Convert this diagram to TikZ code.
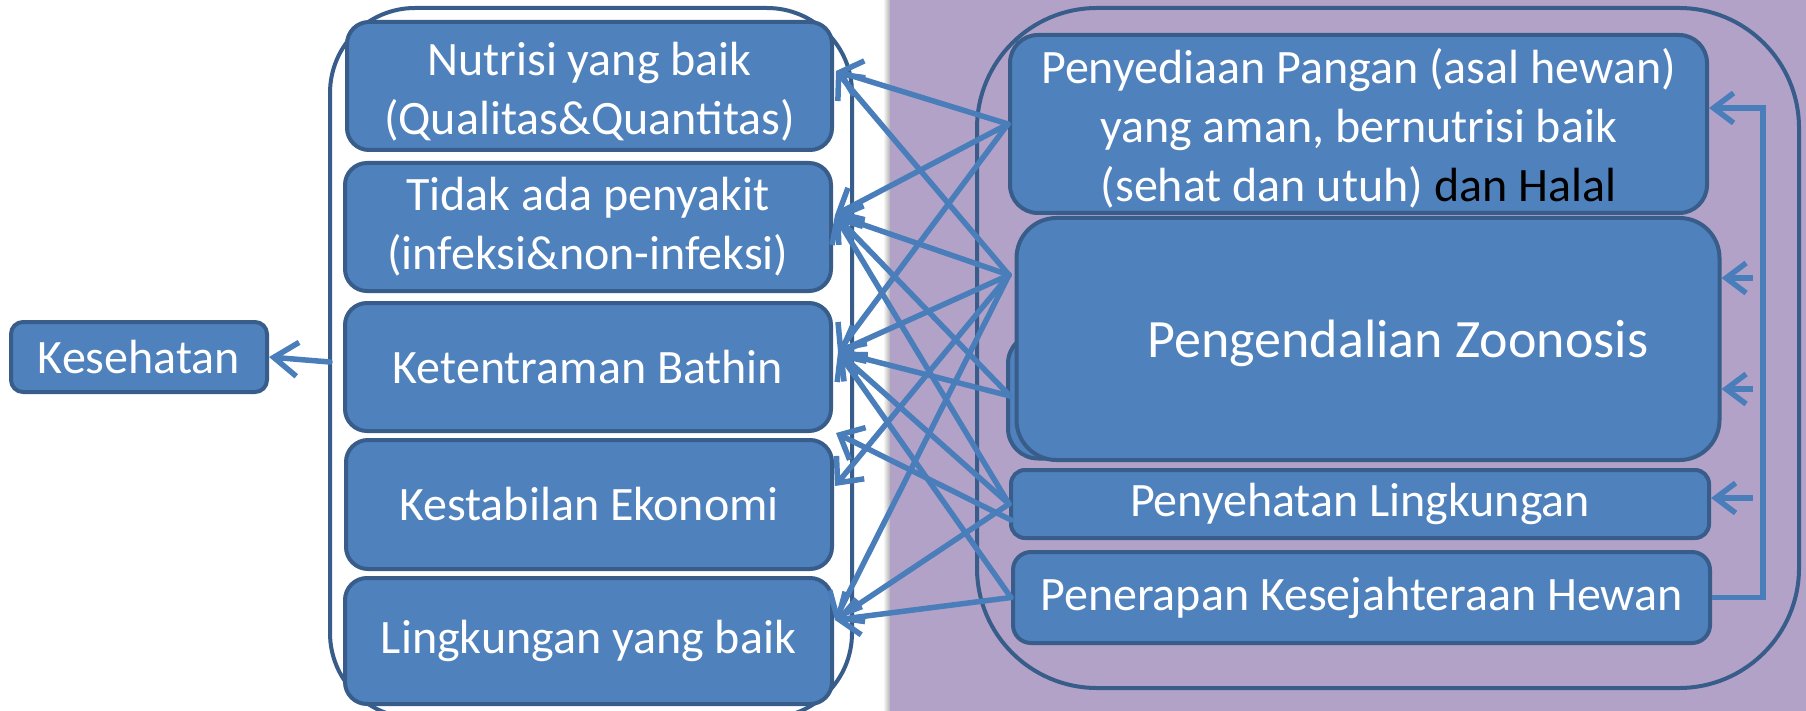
\documentclass[tikz,border=0pt]{standalone}
\usepackage{fontspec}
\setmainfont{Carlito}
\usetikzlibrary{arrows.meta}
\definecolor{boxfill}{HTML}{4F81BD}
\definecolor{boxline}{HTML}{385D8A}
\definecolor{lilac}{HTML}{B3A2C7}
\definecolor{conn}{HTML}{4A7EBB}
\begin{document}
\begin{tikzpicture}[x=1pt,y=-1pt,
  bx/.style={draw=boxline, line width=4pt, fill=boxfill, rounded corners=22pt,
     text=white, align=center, inner sep=0pt, font=\fontsize{48}{59}\selectfont},
  outerbox/.style={draw=boxline, line width=4pt, rounded corners=#1},
  con/.style={draw=conn, line width=5.5pt, line cap=round,
     -{Straight Barb[length=20pt,width=36pt,line width=5.5pt]}},
  fbline/.style={draw=conn, line width=5.5pt},
  lbl/.style={text=white, inner sep=0pt, align=center, font=\fontsize{48}{59}\selectfont}]
\useasboundingbox (0,0) rectangle (1806,711);
\clip (0,0) rectangle (1806,711);
% background
\fill[white] (0,0) rectangle (1806,711);
\shade[left color=white, right color=black!30] (883,0) rectangle (890,711);
\fill[lilac] (890,0) rectangle (1806,711);
% containers
\draw[outerbox=85pt] (330,8) rectangle (852,718);
\draw[outerbox=120pt] (977,8) rectangle (1799,688);
% left boxes
\node[bx, rounded corners=12pt, minimum width=256pt, minimum height=70pt] (kes) at (139,357) {Kesehatan};
\node[bx, minimum width=485pt, minimum height=128pt] (nut) at (589.5,86) {};
\node[lbl] (nuttxt) at (589.5,92) {Nutrisi yang baik\\(Qualitas\&Quantitas)};
\node[bx, minimum width=486pt, minimum height=128pt] (tid) at (588,227) {Tidak ada penyakit\\(infeksi\&non-infeksi)};
\node[bx, minimum width=486pt, minimum height=128pt] (ket) at (588,367) {Ketentraman Bathin};
\node[bx, minimum width=486pt, minimum height=129pt] (eko) at (589,504.5) {Kestabilan Ekonomi};
\node[bx, minimum width=487pt, minimum height=126pt] (lin) at (588.5,641) {Lingkungan yang baik};
% right boxes
\node[bx, rounded corners=28pt, minimum width=697pt, minimum height=178pt] (pen) at (1358.5,124) {};
\node[lbl] (pentxt) at (1358.5,128) {Penyediaan Pangan (asal hewan)\\yang aman, bernutrisi baik\\(sehat dan utuh) \textcolor{black}{dan Halal}};
\node[bx, rounded corners=30pt, minimum width=700pt, minimum height=125pt] (zoosh) at (1358,396) {};
\node[bx, rounded corners=40pt, minimum width=703pt, minimum height=242pt] (zoo) at (1368,339) {};
\node[lbl, font=\fontsize{54}{64}\selectfont] (zootxt) at (1398,343) {Pengendalian Zoonosis};
\node[bx, rounded corners=14pt, minimum width=698pt, minimum height=68pt] (ling) at (1360,504) {Penyehatan Lingkungan};
\node[bx, rounded corners=18pt, minimum width=697pt, minimum height=91pt] (kesej) at (1361.5,597.5) {Penerapan Kesejahteraan Hewan};
% connection points
\coordinate (p1) at (pen.west);
\coordinate (p2a) at (1009,275);
\coordinate (p2b) at (1010,396);
\coordinate (p3) at (ling.west);
\coordinate (p3b) at (1011,520);
\coordinate (p4) at (kesej.west);
\coordinate (l1) at (836,71);
\coordinate (l2) at (835,215);
\coordinate (l3) at (838,352);
\coordinate (l3b) at (836,433);
\coordinate (l4) at (835,486);
\coordinate (l5) at (835,620);
% connectors
\foreach \s/\t in {p1/l1, p1/l2, p1/l3,
                   p2a/l1, p2a/l2, p2a/l3, p2a/l4, p2a/l5,
                   p2b/l2, p2b/l3,
                   p3/l2, p3/l3, p3/l5, p3b/l3b,
                   p4/l3, p4/l5}
  \draw[con] (\s) -- (\t);
% Kesehatan arrow
\coordinate (kstart) at (330,362);
\draw[con, -{Straight Barb[length=24pt,width=34pt,line width=5.5pt]}] (kstart) -- (kes.east);
% feedback loop
\coordinate (fbbot) at (1763,597.5);
\coordinate (fbtop) at (1763,108);
\draw[fbline, -{Straight Barb[length=20pt,width=30pt,line width=5.5pt]}] (kesej.east) -- (fbbot) -- (fbtop) -- (pen.east |- fbtop);
\coordinate (b1) at (1753,278);
\coordinate (b2) at (1753,389);
\coordinate (b3) at (1753,498);
\draw[fbline, -{Straight Barb[length=20pt,width=30pt,line width=5.5pt]}] (b1) -- (zoo.east |- b1);
\draw[fbline, -{Straight Barb[length=20pt,width=30pt,line width=5.5pt]}] (b2) -- (zoo.east |- b2);
\draw[fbline, -{Straight Barb[length=20pt,width=30pt,line width=5.5pt]}] (b3) -- (ling.east |- b3);
\end{tikzpicture}
\end{document}
